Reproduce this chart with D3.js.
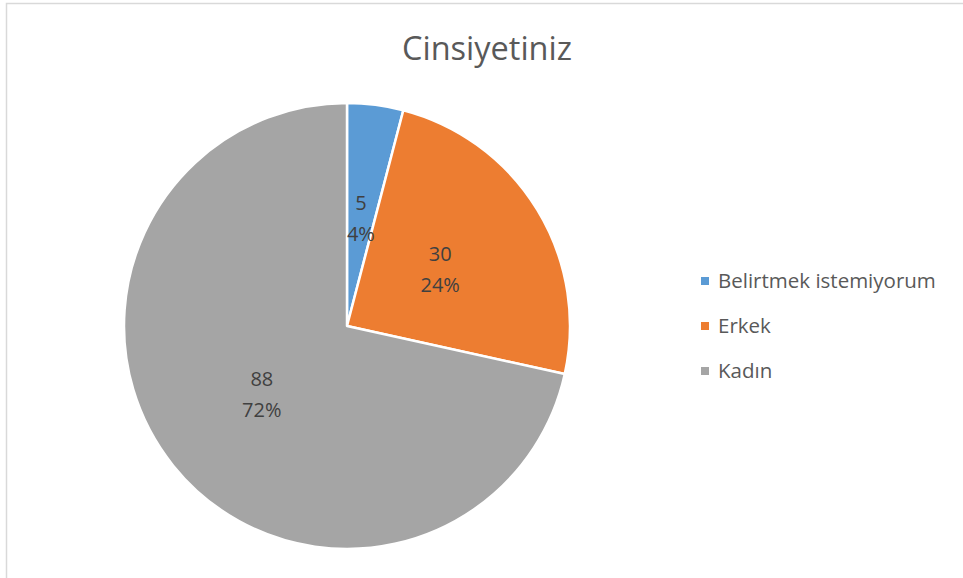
<!DOCTYPE html>
<html>
<head>
<meta charset="utf-8">
<script src="https://cdn.jsdelivr.net/npm/d3@7"></script>
<style>
    body { margin: 0; background: #fff; }
    text { font-family: "Open Sans", sans-serif; }
</style>
</head>
<body>
<script>
const categories = ["Belirtmek istemiyorum", "Erkek", "Kadın"];
const values = [5, 30, 88];
const colors = ["#5b9bd5", "#ed7d31", "#a5a5a5"];
const title = "Cinsiyetiniz";

const width = 963, height = 578;
const cx = 347, cy = 326, radius = 223;

const svg = d3.select("body").append("svg")
    .attr("width", width)
    .attr("height", height);

// chart border (only top/left visible in the crop)
svg.append("rect")
    .attr("x", 6.5).attr("y", 3.5)
    .attr("width", width + 10).attr("height", height + 10)
    .attr("fill", "#fff")
    .attr("stroke", "#d9d9d9")
    .attr("stroke-width", 1.5);

svg.append("text")
    .attr("x", 487).attr("y", 60)
    .attr("text-anchor", "middle")
    .attr("fill", "#595959")
    .attr("font-size", 32.5)
    .text(title);

const total = d3.sum(values);
const pie = d3.pie().sort(null).value(d => d)(values);
const arc = d3.arc().innerRadius(0).outerRadius(radius);
const labelArc = d3.arc().innerRadius(radius * 0.49).outerRadius(radius * 0.49);

const g = svg.append("g").attr("transform", `translate(${cx},${cy})`);

g.selectAll("path")
    .data(pie)
    .join("path")
    .attr("d", arc)
    .attr("fill", (d, i) => colors[i])
    .attr("stroke", "#fff")
    .attr("stroke-width", 2.5)
    .attr("stroke-linejoin", "round");

const labels = g.selectAll(".lbl")
    .data(pie)
    .join("text")
    .attr("class", "lbl")
    .attr("transform", d => `translate(${labelArc.centroid(d)})`)
    .attr("text-anchor", "middle")
    .attr("fill", "#404040")
    .attr("font-size", 20);

labels.append("tspan").attr("x", 0).attr("y", -8).text(d => d.data);
labels.append("tspan").attr("x", 0).attr("y", 23)
    .text(d => Math.round(d.data / total * 100) + "%");

// legend
const legend = svg.append("g").attr("transform", "translate(701,281)");
const item = legend.selectAll("g")
    .data(categories)
    .join("g")
    .attr("transform", (d, i) => `translate(0,${i * 45})`);

item.append("rect")
    .attr("x", 0).attr("y", -4)
    .attr("width", 8).attr("height", 8)
    .attr("fill", (d, i) => colors[i]);

item.append("text")
    .attr("x", 17).attr("y", 7)
    .attr("fill", "#595959")
    .attr("font-size", 20.5)
    .text(d => d);
</script>
</body>
</html>
